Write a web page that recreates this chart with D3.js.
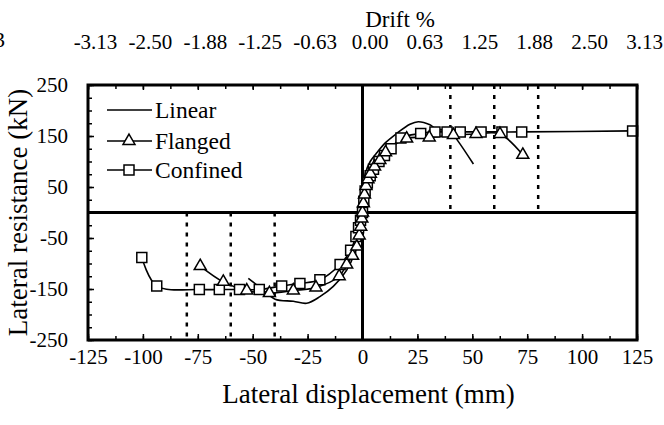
<!DOCTYPE html>
<html>
<head>
<meta charset="utf-8">
<script src="https://cdn.jsdelivr.net/npm/d3@7"></script>
<style>
  body { margin: 0; background: #fff; }
  text { font-family: "Liberation Serif", "Times New Roman", serif; fill: #000; }
</style>
</head>
<body>
<div id="chart"></div>
<script>
// values: [displacement mm, resistance kN]
const linearPts = [
  [-52, -129], [-45.2, -152], [-39.8, -170], [-31.5, -174], [-25.4, -178],
  [-19.4, -165], [-13.3, -145], [-7.2, -113], [-2.6, -67], [-0.4, -15],
  [0, 0], [0.3, 40], [1.2, 75], [3.5, 100], [6.5, 117], [10.5, 137],
  [15.6, 155], [21.6, 173], [25.4, 178], [30.7, 172], [33.8, 163],
  [39.8, 160], [43.5, 140], [50.5, 95]
];
const flangedPts = [
  [-73.9, -105], [-63.4, -136], [-52.7, -153], [-42.4, -158], [-31.5, -153],
  [-21.2, -147], [-10.6, -125], [-7.2, -102], [-4.5, -85], [-2.6, -67],
  [-1.5, -45], [-0.8, -28], [-0.3, -12], [0, 0], [0.4, 18], [0.9, 35],
  [1.6, 52], [2.5, 65], [3.6, 76], [5.5, 90], [7.9, 103], [10.5, 118],
  [20.1, 145], [30.4, 147], [41.4, 152], [51.7, 154], [62.6, 154], [73, 113]
];
const confinedPts = [
  [-100.5, -88], [-93.7, -144], [-74.3, -151], [-65.2, -151], [-56, -151],
  [-47, -151], [-36.8, -144], [-28.5, -139], [-19.4, -132], [-10.2, -102],
  [-5.4, -74], [-3, -47], [-1.8, -30], [-0.9, -15], [0, 0], [0.6, 22],
  [1.2, 42], [2.2, 58], [3.5, 72], [5, 85], [7.5, 100], [10, 112],
  [13, 125], [17.5, 146], [26.5, 155], [33, 158], [38.5, 158], [44.5, 158],
  [54, 158], [63.5, 158], [72.5, 158], [123, 160]
];
const limitsNeg = [-80, -60, -40];
const limitsPos = [40, 60, 80];
const xLabelTicks = [-125, -100, -75, -50, -25, 0, 25, 50, 75, 100, 125];
const yLabelTicks = [250, 150, 50, -50, -150, -250];
const driftLabels = ["-3.13", "-2.50", "-1.88", "-1.25", "-0.63", "0.00", "0.63", "1.25", "1.88", "2.50", "3.13"];
const legendNames = ["Linear", "Flanged", "Confined"];

const width = 664, height = 425;
const serif = "Liberation Serif";
const svg = d3.select("#chart").append("svg")
  .attr("width", width).attr("height", height);

const x = d3.scaleLinear().domain([-125, 125]).range([88, 637]);
const y = d3.scaleLinear().domain([-250, 250]).range([340, 85]);

const minorX = d3.range(-125, 125.1, 12.5);
const minorY = d3.range(-250, 250.1, 25);
const plain = d => String(d);

function styleLabels(g) {
  g.attr("font-family", serif).attr("font-size", 21);
  g.selectAll("text").attr("font-family", serif).attr("font-size", "21px");
}

// bottom axis, ticks pointing inward
svg.append("g")
  .attr("transform", `translate(0,${y(-250)})`)
  .call(d3.axisBottom(x).tickValues(minorX).tickSize(-4).tickFormat(""))
  .call(g => g.select(".domain").remove());
svg.append("g")
  .attr("transform", `translate(0,${y(-250)})`)
  .call(d3.axisBottom(x).tickValues(xLabelTicks).tickSize(-6).tickFormat(plain).tickPadding(9))
  .call(g => g.select(".domain").remove())
  .call(styleLabels);

// top axis: drift %
svg.append("g")
  .attr("transform", `translate(0,${y(250)})`)
  .call(d3.axisTop(x).tickValues(minorX).tickSize(-4).tickFormat(""))
  .call(g => g.select(".domain").remove());
svg.append("g")
  .attr("transform", `translate(0,${y(250)})`)
  .call(d3.axisTop(x).tickValues(xLabelTicks).tickSize(-5).tickPadding(36)
    .tickFormat((d, i) => driftLabels[i]))
  .call(g => g.select(".domain").remove())
  .call(styleLabels)
  .call(g => g.selectAll("text").attr("dx", 7));

// left axis
svg.append("g")
  .attr("transform", `translate(${x(-125)},0)`)
  .call(d3.axisLeft(y).tickValues(minorY).tickSize(-4).tickFormat(""))
  .call(g => g.select(".domain").remove());
svg.append("g")
  .attr("transform", `translate(${x(-125)},0)`)
  .call(d3.axisLeft(y).tickValues(yLabelTicks).tickSize(-6).tickFormat(plain).tickPadding(20))
  .call(g => g.select(".domain").remove())
  .call(styleLabels)
  .call(g => g.selectAll("text").attr("dy", "0.3em"));

svg.selectAll(".tick line").attr("stroke", "#000").attr("stroke-width", 1.5);

// dotted drift limit lines
svg.selectAll(".limit-neg")
  .data(limitsNeg)
  .enter().append("line")
  .attr("class", "limit-neg")
  .attr("x1", d => x(d)).attr("x2", d => x(d))
  .attr("y1", y(0)).attr("y2", y(-250))
  .attr("stroke", "#000").attr("stroke-width", 2.5)
  .attr("stroke-dasharray", "4,6");
svg.selectAll(".limit-pos")
  .data(limitsPos)
  .enter().append("line")
  .attr("class", "limit-pos")
  .attr("x1", d => x(d)).attr("x2", d => x(d))
  .attr("y1", y(250)).attr("y2", y(0))
  .attr("stroke", "#000").attr("stroke-width", 2.5)
  .attr("stroke-dasharray", "4,6");

// zero lines
svg.append("line")
  .attr("x1", x(0)).attr("x2", x(0)).attr("y1", y(250)).attr("y2", y(-250))
  .attr("stroke", "#000").attr("stroke-width", 3);
svg.append("line")
  .attr("x1", x(-125)).attr("x2", x(125)).attr("y1", y(0)).attr("y2", y(0))
  .attr("stroke", "#000").attr("stroke-width", 3);

// curves
const line = d3.line()
  .x(d => x(d[0])).y(d => y(d[1]))
  .curve(d3.curveCatmullRom.alpha(0.5));

[linearPts, flangedPts, confinedPts].forEach(pts => {
  svg.append("path")
    .datum(pts)
    .attr("d", line)
    .attr("fill", "none")
    .attr("stroke", "#000")
    .attr("stroke-width", 1.6);
});

// markers
const tri = d3.symbol(d3.symbolTriangle).size(62);
const sq = d3.symbol(d3.symbolSquare).size(100);

svg.selectAll(".conf")
  .data(confinedPts)
  .enter().append("path")
  .attr("class", "conf")
  .attr("d", sq)
  .attr("transform", d => `translate(${x(d[0])},${y(d[1])})`)
  .attr("fill", "#fff").attr("stroke", "#000").attr("stroke-width", 1.5);

svg.selectAll(".flan")
  .data(flangedPts)
  .enter().append("path")
  .attr("class", "flan")
  .attr("d", tri)
  .attr("transform", d => `translate(${x(d[0])},${y(d[1])})`)
  .attr("fill", "#fff").attr("stroke", "#000").attr("stroke-width", 1.5);

// frame
svg.append("rect")
  .attr("x", x(-125)).attr("y", y(250))
  .attr("width", x(125) - x(-125)).attr("height", y(-250) - y(250))
  .attr("fill", "none").attr("stroke", "#000").attr("stroke-width", 3);

// legend
const legY = [110, 141, 170];
legendNames.forEach((name, i) => {
  const g = svg.append("g");
  g.append("line")
    .attr("x1", 107).attr("x2", 152).attr("y1", legY[i]).attr("y2", legY[i])
    .attr("stroke", "#000").attr("stroke-width", 1.6);
  if (i === 1) {
    g.append("path").attr("d", tri)
      .attr("transform", `translate(129,${legY[i]})`)
      .attr("fill", "#fff").attr("stroke", "#000").attr("stroke-width", 1.5);
  }
  if (i === 2) {
    g.append("path").attr("d", sq)
      .attr("transform", `translate(129,${legY[i]})`)
      .attr("fill", "#fff").attr("stroke", "#000").attr("stroke-width", 1.5);
  }
  g.append("text")
    .attr("x", 155).attr("y", legY[i] + 8)
    .attr("font-size", "23.5px")
    .text(name);
});

// axis titles
svg.append("text")
  .attr("x", x(0) + 6).attr("y", 403)
  .attr("text-anchor", "middle")
  .attr("font-size", "27px")
  .text("Lateral displacement (mm)");

svg.append("text")
  .attr("transform", `translate(27,${y(0)}) rotate(-90)`)
  .attr("text-anchor", "middle")
  .attr("font-size", "27px")
  .text("Lateral resistance (kN)");

svg.append("text")
  .attr("x", 400).attr("y", 27)
  .attr("text-anchor", "middle")
  .attr("font-size", "23px")
  .text("Drift %");

// clipped label fragment at the left edge
svg.append("text")
  .attr("x", -6).attr("y", 47)
  .attr("font-size", "22px")
  .text("3");
</script>
</body>
</html>
